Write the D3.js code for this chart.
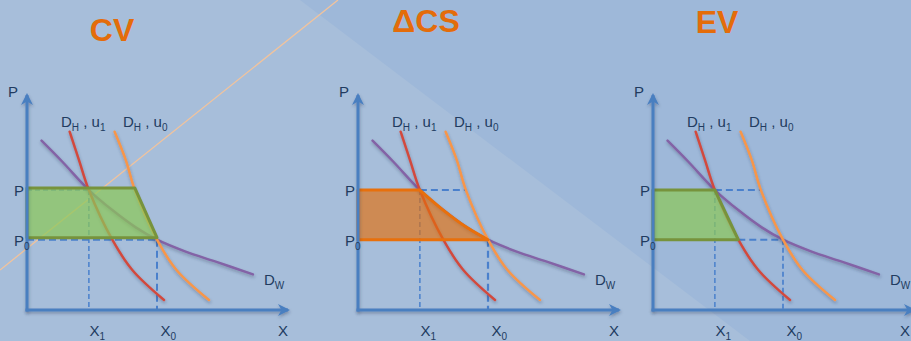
<!DOCTYPE html>
<html>
<head>
<meta charset="utf-8">
<script src="https://cdn.jsdelivr.net/npm/d3@7"></script>
<style>
  html, body { margin: 0; padding: 0; background: #A7BEDA; }
  svg { display: block; }
  text { font-family: "Liberation Sans", Arial, sans-serif; }
</style>
</head>
<body>
<script>
// ---------------- data ----------------
const panelTitles = ["CV", "ΔCS", "EV"];
const X1 = 2.38, X0 = 5.0;      // quantities
const P1 = 5.63, P0 = 3.3;      // prices
// Hicksian demand at u1 (red)
const dhU1 = [[1.64, 8.37], [2.0, 7.04], [2.38, 5.63], [3.28, 3.3], [4.05, 1.88], [5.27, 0.47]];
// Hicksian demand at u0 (orange)
const dhU0 = [[3.37, 8.37], [3.8, 7.04], [4.15, 5.63], [5.0, 3.3], [5.75, 1.88], [7.0, 0.47]];
// Walrasian demand (purple)
const dW = [[0.56, 7.95], [1.36, 6.96], [2.38, 5.63], [3.28, 4.69], [4.18, 3.88], [5.0, 3.3],
            [6.1, 2.74], [7.26, 2.27], [8.69, 1.67]];
const axisNames = ["P", "X"];
const tickLabels = [["X", "1"], ["X", "0"]];
const priceLabels = [["P", ""], ["P", "0"]];

// ---------------- layout ----------------
const W = 911, H = 341;
const origins = [27, 358, 653];
const titlePos = [[112, 41], [426, 32], [717, 33]];
const C = {
  axis: "#4A7FC0", dash: "#4A80CC", text: "#213B60", title: "#E46C0A",
  red: "#D24A3E", orange: "#F7964A", purple: "#8363A6",
  green: "#8CC759", greenStroke: "#77933C", orangeFill: "#E46E0B", orangeStroke: "#E8700C"
};

const svg = d3.select("body").append("svg").attr("width", W).attr("height", H);
const defs = svg.append("defs");
const f = defs.append("filter").attr("id", "sh").attr("filterUnits", "userSpaceOnUse")
  .attr("x", 0).attr("y", 0).attr("width", W).attr("height", H);
f.append("feDropShadow").attr("dx", 0.5).attr("dy", 2).attr("stdDeviation", 1.4)
  .attr("flood-color", "#2a3550").attr("flood-opacity", 0.35);
defs.append("marker").attr("id", "arr").attr("viewBox", "0 0 12 12")
  .attr("refX", 10).attr("refY", 6).attr("markerWidth", 12).attr("markerHeight", 12)
  .attr("markerUnits", "userSpaceOnUse").attr("orient", "auto")
  .append("path").attr("d", "M0,0 L12,6 L0,12 L3.5,6 Z").attr("fill", C.axis);

// background
svg.append("rect").attr("width", W).attr("height", H).attr("fill", "#A7BEDA");
svg.append("path").attr("d", "M300,0 L911,0 L911,341 L750,341 Z").attr("fill", "#9EB8D9");
svg.append("line").attr("x1", 0).attr("y1", 270).attr("x2", 338).attr("y2", 0)
  .attr("stroke", "#F2C39C").attr("stroke-width", 1.3);

function addSub(t, main, sub, big, small) {
  t.append("tspan").text(main).attr("font-size", big);
  if (sub) t.append("tspan").text(sub).attr("font-size", small).attr("dy", 4);
}

panelTitles.forEach((title, i) => {
  const ox = origins[i];
  const x = d3.scaleLinear().domain([0, 10]).range([ox, ox + 260]);
  const y = d3.scaleLinear().domain([0, 10]).range([310, 97]);
  const g = svg.append("g");
  const line = d3.line().x(d => x(d[0])).y(d => y(d[1])).curve(d3.curveCatmullRom.alpha(0.5));

  const atPrice = (curve, p) => curve.find(d => Math.abs(d[1] - p) < 1e-9)[0];
  const xU0atP1 = atPrice(dhU0, P1);
  const xU1atP0 = atPrice(dhU1, P0);

  // dashed guides
  let dashes;
  if (i === 0) dashes = [[[0, P1], [X1, P1], 1.5], [[0, P0], [X0, P0], 2], [[X1, P1], [X1, 0], 1.5], [[X0, P0], [X0, 0], 2]];
  else if (i === 1) dashes = [[[X1, P1], [xU0atP1, P1], 2], [[X1, P1], [X1, 0], 1.5], [[X0, P0], [X0, 0], 2.2]];
  else dashes = [[[X1, P1], [xU0atP1, P1], 2], [[xU1atP0, P0], [X0, P0], 2], [[X1, P1], [X1, 0], 1.5], [[X0, P0], [X0, 0], 1.7]];
  dashes.forEach(([a, b, w]) => {
    g.append("line").attr("x1", x(a[0])).attr("y1", y(a[1])).attr("x2", x(b[0])).attr("y2", y(b[1]))
      .attr("stroke", C.dash).attr("stroke-width", w)
      .attr("stroke-dasharray", w >= 2 ? "7,4" : "5,3");
  });

  // curves
  [[dW, C.purple], [dhU1, C.red], [dhU0, C.orange]].forEach(([data, col]) => {
    g.append("path").attr("d", line(data)).attr("fill", "none").attr("stroke", col)
      .attr("stroke-width", 2.5).attr("stroke-linecap", "round").attr("filter", "url(#sh)");
  });

  // shaded welfare area
  const seg = c => c.filter(d => d[1] <= P1 + 1e-9 && d[1] >= P0 - 1e-9);
  const edge = i === 0 ? seg(dhU0) : i === 1 ? seg(dW) : seg(dhU1);
  const areaPath = "M" + x(0) + "," + y(P1) + line(edge).replace(/^M/, "L") +
    "L" + x(0) + "," + y(P0) + "Z";
  g.append("path").attr("d", areaPath)
    .attr("transform", i === 0 ? "translate(0,-2)" : null)
    .attr("fill", i === 1 ? C.orangeFill : C.green).attr("fill-opacity", i === 1 ? 0.65 : 0.72)
    .attr("stroke", i === 1 ? C.orangeStroke : C.greenStroke).attr("stroke-width", 3)
    .attr("stroke-linejoin", "round");

  // axes (arrows)
  g.append("line").attr("x1", x(0)).attr("y1", y(0) + 1.5).attr("x2", x(0)).attr("y2", y(10) - 2)
    .attr("stroke", C.axis).attr("stroke-width", 3).attr("marker-end", "url(#arr)").attr("filter", "url(#sh)");
  g.append("line").attr("x1", x(0) - 1.5).attr("y1", y(0)).attr("x2", x(10) + 1).attr("y2", y(0))
    .attr("stroke", C.axis).attr("stroke-width", 3).attr("marker-end", "url(#arr)").attr("filter", "url(#sh)");

  // tick labels via d3 axis
  const ax = g.append("g").attr("transform", `translate(0,${y(0)})`)
    .call(d3.axisBottom(x).tickValues([X1, X0]).tickSize(0).tickPadding(0).tickFormat(""));
  ax.select(".domain").remove();
  ax.selectAll(".tick text").each(function (d, k) {
    const t = d3.select(this).attr("text-anchor", "start").attr("y", 26)
      .attr("x", k === 0 ? 0 : 3).attr("dy", null).attr("fill", C.text).attr("font-size", null);
    addSub(t, tickLabels[k][0], tickLabels[k][1], 15, 10);
  });

  // price labels
  [[P1, 0], [P0, 1]].forEach(([p, k]) => {
    const t = g.append("text").attr("x", x(0) - 13).attr("y", y(p) + 6).attr("fill", C.text);
    addSub(t, priceLabels[k][0], priceLabels[k][1], 15, 10);
  });

  // axis names
  g.append("text").attr("x", x(0) - 19).attr("y", 97).attr("fill", C.text).attr("font-size", 15).text(axisNames[0]);
  g.append("text").attr("x", Math.min(ox + 251, W - 11)).attr("y", 336).attr("fill", C.text).attr("font-size", 15).text(axisNames[1]);

  // curve labels
  const lab = (lx, ly, parts) => {
    const t = g.append("text").attr("x", lx).attr("y", ly).attr("fill", C.text).attr("font-size", 15);
    let down = false;
    parts.forEach(([s, sub]) => {
      const ts = t.append("tspan").text(s);
      if (sub && !down) { ts.attr("font-size", 10).attr("dy", 4); down = true; }
      else if (!sub && down) { ts.attr("dy", -4); down = false; }
      else if (sub) ts.attr("font-size", 10);
    });
  };
  lab(ox + 34, 127, [["D"], ["H", 1], [" , u"], ["1", 1]]);
  lab(ox + 96, 127, [["D"], ["H", 1], [" , u"], ["0", 1]]);
  lab(ox + 237, 285, [["D"], ["W", 1]]);

  // title
  svg.append("text").attr("x", titlePos[i][0]).attr("y", titlePos[i][1]).attr("text-anchor", "middle")
    .attr("fill", C.title).attr("font-size", 32).attr("font-weight", "bold").text(title);
});
</script>
</body>
</html>
